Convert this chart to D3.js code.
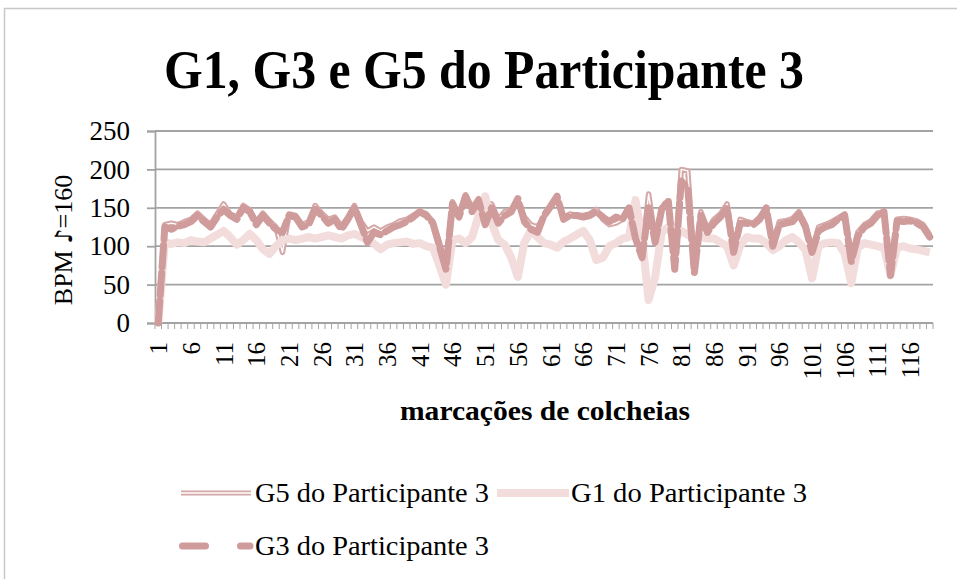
<!DOCTYPE html>
<html>
<head>
<meta charset="utf-8">
<script src="https://cdn.jsdelivr.net/npm/d3@7"></script>
<style>
  body { margin: 0; background: #fff; }
  text { font-family: "Liberation Serif", serif; fill: #000; }
</style>
</head>
<body>
<div id="display"></div>
<script>
// categories 1..119 (marcações de colcheias)
const categories = d3.range(1, 120);
const xTickLabels = [1, 6, 11, 16, 21, 26, 31, 36, 41, 46, 51, 56, 61, 66, 71, 76, 81, 86, 91, 96, 101, 106, 111, 116];
const yTicks = [0, 50, 100, 150, 200, 250];

const g5Values = [0,128,130,128,132,135,143,135,128,142,155,142,138,153,147,132,143,133,125,92,
  142,140,128,132,153,143,135,138,126,138,153,132,120,125,120,125,128,133,135,140,
  145,142,132,105,75,158,140,167,150,162,132,155,135,145,148,160,138,128,125,138,
  150,163,138,142,140,140,142,148,135,128,130,135,148,115,90,168,110,150,158,75,
  200,198,70,145,122,135,142,155,95,135,132,130,138,150,102,132,133,136,145,128,
  95,125,128,132,137,142,85,118,128,133,143,145,68,135,136,135,133,128,115];

const g1Values = [0,105,103,105,104,108,106,105,110,115,120,112,102,108,116,108,96,90,100,108,
  110,108,110,112,110,112,114,112,110,114,116,112,108,103,96,102,104,105,106,103,
  104,100,98,75,50,108,110,104,112,140,165,130,108,102,85,60,105,120,112,104,
  102,98,106,110,115,120,108,82,85,100,104,110,112,160,110,30,60,118,125,110,
  120,115,110,112,110,110,105,100,75,100,112,110,110,104,95,100,108,112,105,95,
  58,100,104,105,104,90,52,98,104,102,100,98,62,98,100,97,96,94,92];

const g3Values = [0,125,122,126,128,132,140,132,125,138,148,140,135,150,145,128,140,130,122,118,
  140,138,125,128,148,140,130,135,122,135,150,128,105,118,115,120,125,128,132,138,
  145,140,130,100,70,155,138,165,145,160,128,150,130,140,145,162,132,122,118,140,
  152,165,135,140,140,138,140,145,138,132,138,135,150,110,85,150,105,148,160,70,
  185,175,65,140,118,130,138,150,92,130,130,128,135,150,100,128,130,132,142,125,
  92,120,125,128,135,140,80,113,125,130,140,145,62,133,132,133,130,125,112];

const series = [
  {name: 'G5 do Participante 3', values: g5Values, type: 'double', color: '#d6a7a7'},
  {name: 'G1 do Participante 3', values: g1Values, type: 'light', color: '#f2dcdc'},
  {name: 'G3 do Participante 3', values: g3Values, type: 'dash', color: '#cf9b9b'}
];

const W = 957, H = 579;
const plot = {left: 155, right: 933, top: 131, bottom: 323};

const svg = d3.select('#display')
  .append('svg')
    .attr('width', W)
    .attr('height', H);

// chart frame
svg.append('rect')
  .attr('x', 4.5).attr('y', 8.5)
  .attr('width', W + 20).attr('height', H + 20)
  .attr('fill', 'none')
  .attr('stroke', '#c8c8c8')
  .attr('stroke-width', 1.5);

// title
svg.append('text')
  .attr('x', 484).attr('y', 88)
  .attr('text-anchor', 'middle')
  .attr('font-size', 54)
  .attr('font-weight', 'bold')
  .attr('textLength', 640)
  .attr('lengthAdjust', 'spacingAndGlyphs')
  .text('G1, G3 e G5 do Participante 3');

// scales
const xBand = d3.scaleBand()
  .domain(categories)
  .range([plot.left, plot.right]);
const xScale = d => xBand(d) + xBand.bandwidth() / 2;

const yScale = d3.scaleLinear()
  .domain([0, 250])
  .range([plot.bottom, plot.top]);

// gridlines
svg.append('g')
  .selectAll('line')
  .data(yTicks)
  .join('line')
    .attr('x1', plot.left).attr('x2', plot.right)
    .attr('y1', d => yScale(d)).attr('y2', d => yScale(d))
    .attr('stroke', '#a3a3a3')
    .attr('stroke-width', 1.8);

// y axis
const yAxis = svg.append('g')
  .attr('transform', 'translate(' + plot.left + ',0)')
  .call(d3.axisLeft(yScale).tickValues(yTicks).tickSize(8).tickPadding(17));
yAxis.select('.domain').attr('stroke', '#a3a3a3').attr('stroke-width', 1.8);
yAxis.selectAll('.tick line').attr('stroke', '#a3a3a3').attr('stroke-width', 1.8);
yAxis.selectAll('.tick text')
  .attr('font-size', 27)
  .attr('font-family', 'Liberation Serif')
  .attr('fill', '#000');

// x axis line + minor ticks at category boundaries
svg.append('line')
  .attr('x1', plot.left).attr('x2', plot.right)
  .attr('y1', plot.bottom).attr('y2', plot.bottom)
  .attr('stroke', '#a3a3a3').attr('stroke-width', 1.8);
svg.append('g')
  .selectAll('line')
  .data(categories.concat(['end']))
  .join('line')
    .attr('x1', d => d === 'end' ? plot.right : xBand(d))
    .attr('x2', d => d === 'end' ? plot.right : xBand(d))
    .attr('y1', plot.bottom).attr('y2', plot.bottom + 6)
    .attr('stroke', '#a3a3a3').attr('stroke-width', 1);

// x tick labels, rotated
svg.append('g')
  .selectAll('text')
  .data(xTickLabels)
  .join('text')
    .attr('transform', d => 'translate(' + (xScale(d) + 9) + ',' + 342 + ') rotate(-90)')
    .attr('text-anchor', 'end')
    .attr('font-size', 25)
    .text(d => d);

// axis titles
let yTitle = svg.append('text')
  .attr('transform', 'translate(72,240) rotate(-90)')
  .attr('text-anchor', 'middle')
  .attr('font-size', 26);
yTitle.append('tspan').text('BPM ');
yTitle.append('tspan').attr('font-family', 'DejaVu Sans').attr('font-size', 24).text('\u266A');
yTitle.append('tspan').text('=160');

svg.append('text')
  .attr('x', 545).attr('y', 420)
  .attr('text-anchor', 'middle')
  .attr('font-size', 27)
  .attr('font-weight', 'bold')
  .attr('textLength', 290)
  .attr('lengthAdjust', 'spacingAndGlyphs')
  .text('marcações de colcheias');

// lines
const line = d3.line()
  .x((d, i) => xScale(categories[i]))
  .y(d => yScale(d));

let lines = svg.append('g');
series.forEach(s => {
  if (s.type === 'double') {
    lines.append('path').datum(s.values)
      .attr('d', line).attr('fill', 'none')
      .attr('stroke', s.color).attr('stroke-width', 5.5)
      .attr('stroke-linejoin', 'round');
    lines.append('path').datum(s.values)
      .attr('d', line).attr('fill', 'none')
      .attr('stroke', '#fff').attr('stroke-width', 1.4)
      .attr('stroke-linejoin', 'round');
  } else if (s.type === 'light') {
    lines.append('path').datum(s.values)
      .attr('d', line).attr('fill', 'none')
      .attr('stroke', s.color).attr('stroke-width', 8)
      .attr('stroke-linejoin', 'round');
  } else {
    lines.append('path').datum(s.values)
      .attr('d', line).attr('fill', 'none')
      .attr('stroke', s.color).attr('stroke-width', 7)
      .attr('stroke-dasharray', '22,6')
      .attr('stroke-linecap', 'round')
      .attr('stroke-linejoin', 'round');
  }
});

// legend
const legendPos = [
  {x1: 181, x2: 251, y: 493, tx: 255, tl: 234},
  {x1: 497, x2: 569, y: 493, tx: 571, tl: 236},
  {x1: 182.5, x2: 250, y: 546, tx: 255, tl: 234}
];
series.forEach((s, i) => {
  let p = legendPos[i];
  let g = svg.append('g');
  if (s.type === 'double') {
    g.append('line').attr('x1', p.x1).attr('x2', p.x2)
      .attr('y1', p.y).attr('y2', p.y)
      .attr('stroke', s.color).attr('stroke-width', 5);
    g.append('line').attr('x1', p.x1).attr('x2', p.x2)
      .attr('y1', p.y).attr('y2', p.y)
      .attr('stroke', '#fff').attr('stroke-width', 1.4);
  } else if (s.type === 'light') {
    g.append('line').attr('x1', p.x1).attr('x2', p.x2)
      .attr('y1', p.y).attr('y2', p.y)
      .attr('stroke', s.color).attr('stroke-width', 8);
  } else {
    g.append('line').attr('x1', p.x1).attr('x2', p.x2)
      .attr('y1', p.y).attr('y2', p.y)
      .attr('stroke', s.color).attr('stroke-width', 7)
      .attr('stroke-dasharray', '23,35')
      .attr('stroke-linecap', 'round');
  }
  g.append('text')
    .attr('x', p.tx).attr('y', p.y + 9)
    .attr('font-size', 27)
    .attr('textLength', p.tl)
    .attr('lengthAdjust', 'spacingAndGlyphs')
    .text(s.name);
});
</script>
</body>
</html>
